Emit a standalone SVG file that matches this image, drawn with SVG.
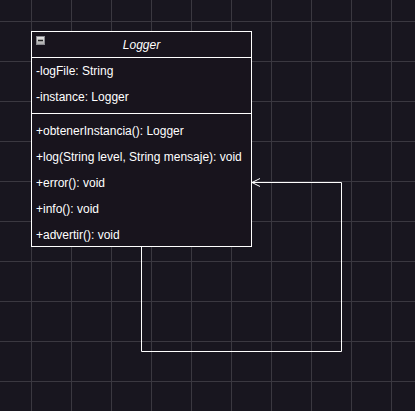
<svg xmlns="http://www.w3.org/2000/svg" width="415" height="411" viewBox="0 0 415 411">
<defs>
<pattern id="minor" x="1" y="1" width="10" height="10" patternUnits="userSpaceOnUse">
<path d="M10.5 0V10M0 10.5H10" fill="none" stroke="#25232b" stroke-width="1"/>
</pattern>
<pattern id="major" x="0" y="0" width="40" height="40" patternUnits="userSpaceOnUse">
<path d="M31.5 0V40M0 21.5H40" fill="none" stroke="#3a3840" stroke-width="1"/>
</pattern>
<linearGradient id="ig" x1="0" y1="0" x2="0" y2="1">
<stop offset="0" stop-color="#e8e8e8"/>
<stop offset="1" stop-color="#a8a8a8"/>
</linearGradient>
<marker id="open" markerWidth="12" markerHeight="12" refX="9" refY="6" orient="auto" markerUnits="userSpaceOnUse">
<path d="M1 2L9 6L1 10" fill="none" stroke="#ffffff" stroke-width="1"/>
</marker>
</defs>
<style>
.t{font-family:"Liberation Sans",Arial,sans-serif;font-size:12px;fill:#ffffff}
.ln{stroke:#ffffff;stroke-width:1;fill:none}
</style>
<rect width="415" height="411" fill="#18161f"/>
<rect width="415" height="411" fill="url(#minor)"/>
<rect width="415" height="411" fill="url(#major)"/>
<g id="Logger">
<rect x="31.5" y="31.5" width="220" height="215" fill="#18141d" stroke="#ffffff"/>
<line class="ln" x1="31.5" y1="57.5" x2="251.5" y2="57.5"/>
<line class="ln" x1="31.5" y1="113.5" x2="251.5" y2="113.5"/>
<rect x="36.5" y="36.5" width="8" height="8" fill="url(#ig)" stroke="#8a8a90"/>
<line x1="38" y1="40.5" x2="43" y2="40.5" stroke="#222" stroke-width="1.5"/>
<text class="t" x="141.5" y="49" text-anchor="middle" font-style="italic">Logger</text>
<text class="t" x="36" y="75">-logFile: String</text>
<text class="t" x="36" y="101">-instance: Logger</text>
<text class="t" x="36" y="135">+obtenerInstancia(): Logger</text>
<text class="t" x="36" y="161">+log(String level, String mensaje): void</text>
<text class="t" x="36" y="187">+error(): void</text>
<text class="t" x="36" y="213">+info(): void</text>
<text class="t" x="36" y="239">+advertir(): void</text>
</g>
<g id="connectors">
<path class="ln" d="M141.5 246.5V351.5H341.5V182.5H252" marker-end="url(#open)"/>
</g>
</svg>
